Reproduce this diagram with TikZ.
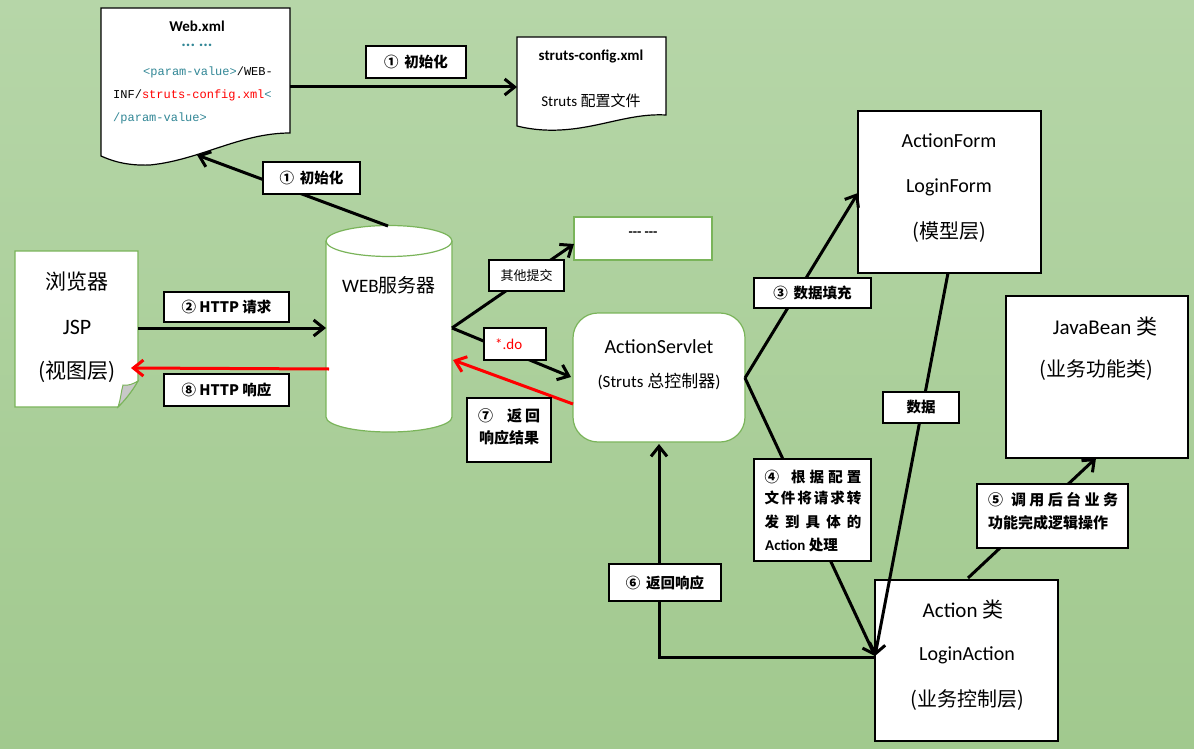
\documentclass[tikz,border=0pt]{standalone}
\usepackage{fontspec}
\setmainfont{Carlito}
\newfontfamily\cjk{Noto Sans CJK SC}
\newfontfamily\mono{Liberation Mono}
\usetikzlibrary{arrows.meta}
\definecolor{bgtop}{RGB}{182,214,168}
\definecolor{bgbot}{RGB}{161,201,142}
\definecolor{gline}{RGB}{122,180,90}
\definecolor{tealc}{RGB}{50,135,150}
\definecolor{foldc}{RGB}{200,200,200}
\begin{document}
\begin{tikzpicture}[x=1pt,y=-1pt,
  conn/.style={line width=3pt,-{Straight Barb[length=10pt,width=16pt]}},
  rconn/.style={conn,draw=red},
  lbl/.style={draw=black,fill=white,line width=1.1pt,inner sep=0pt,font=\cjk\bfseries\fontsize{14.5}{17}\selectfont},
  boxk/.style={draw=black,fill=white,line width=1.2pt,inner sep=0pt},
  boxg/.style={draw=gline,fill=white,line width=1.2pt,inner sep=0pt},
  txt/.style={inner sep=0pt},
  big/.style={txt,font=\fontsize{20}{24}\selectfont},
  bigc/.style={txt,font=\cjk\fontsize{20}{24}\selectfont},
  docshape/.style={draw=black,fill=white,line width=1.2pt}
]
% background
\shade[top color=bgtop,bottom color=bgbot] (0,0) rectangle (1194,749);
\useasboundingbox (0,0) rectangle (1194,749);

% Web.xml document
\filldraw[docshape] (101,8) -- (290,8) -- (290,133) .. controls (240,133) and (200,160) .. (150,165) .. controls (125,166) and (110,160) .. (101,156) -- cycle;
\node[txt,font=\bfseries\fontsize{15}{17}\selectfont] (webtitle) at (197,26) {Web.xml};
\node[txt,text=tealc,font=\bfseries\fontsize{17}{17}\selectfont] (webdots) at (197,45) {.{}.{}.\ .{}.{}.};
\node[txt,anchor=west,font=\mono\fontsize{12}{14}\selectfont] (webl1) at (143,72) {\textcolor{tealc}{<param-value>}/WEB-};
\node[txt,anchor=west,font=\mono\fontsize{12}{14}\selectfont] (webl2) at (113,95) {INF/\textcolor{red}{struts-config.xml}\textcolor{tealc}{<}};
\node[txt,anchor=west,font=\mono\fontsize{12}{14}\selectfont] (webl3) at (113,118) {\textcolor{tealc}{/param-value>}};

% struts-config.xml document
\filldraw[docshape] (517,37) -- (666,37) -- (666,115) .. controls (630,113) and (600,128) .. (560,130) .. controls (540,131) and (525,128) .. (517,126) -- cycle;
\node[txt,font=\bfseries\fontsize{15}{17}\selectfont] (strtitle) at (591,56) {struts-config.xml};
\node[txt,font=\fontsize{15}{17}\selectfont] (strsub) at (591,101) {Struts {\cjk 配置文件}};

% browser page
\filldraw[draw=gline,fill=white,line width=1.2pt] (15,251) -- (138,251) -- (138,381) .. controls (131,393) and (124,401) .. (118,407) -- (15,407) -- cycle;
\filldraw[draw=gline,fill=foldc,line width=1pt] (118,407) .. controls (121,398) and (121,392) .. (123,385) .. controls (128,386) and (133,384) .. (138,381) .. controls (131,393) and (124,401) .. (118,407) -- cycle;
\node[bigc,font=\cjk\fontsize{21}{24}\selectfont] (br1) at (77,282) {浏览器};
\node[big,font=\fontsize{22}{24}\selectfont] (br2) at (77,327) {JSP};
\node[bigc,font=\cjk\fontsize{21}{24}\selectfont] (br3) at (77,372) {(视图层)};

% WEB server cylinder
\filldraw[draw=gline,fill=white,line width=1.2pt] (326,241) -- (326,417) arc[start angle=180,end angle=0,x radius=63,y radius=15] -- (452,241) arc[start angle=0,end angle=-180,x radius=63,y radius=15.5] -- cycle;
\draw[draw=gline,line width=1.2pt] (326,241) arc[start angle=180,end angle=0,x radius=63,y radius=15.5];
\node[txt,font=\fontsize{19}{22}\selectfont] (srv) at (389,285) {WEB{\cjk 服务器}};

% other box
\node[boxg,minimum width=138pt,minimum height=43pt] (other) at (643,238.5) {};
\node[txt,font=\bfseries\fontsize{14}{16}\selectfont] (othert) at (643,234) {-{}-{}-\ -{}-{}-};

% ActionServlet
\node[boxg,rounded corners=25pt,minimum width=172pt,minimum height=129pt] (servlet) at (659,377.5) {};
\node[big] (slv1) at (659,347) {ActionServlet};
\node[txt,font=\fontsize{17}{20}\selectfont] (slv2) at (659,382) {(Struts {\cjk 总控制器})};

% ActionForm
\node[boxk,minimum width=183pt,minimum height=162pt] (form) at (949.5,192) {};
\node[big] (f1) at (949,141) {ActionForm};
\node[big] (f2) at (949,187) {LoginForm};
\node[bigc] (f3) at (949,232) {(模型层)};

% JavaBean
\node[boxk,minimum width=182pt,minimum height=162pt] (bean) at (1097,377) {};
\node[txt,font=\fontsize{21}{24}\selectfont] (b1) at (1105,327) {JavaBean {\cjk 类}};
\node[bigc] (b2) at (1096,370) {(业务功能类)};

% Action
\node[boxk,minimum width=183pt,minimum height=161pt] (action) at (966.5,660.5) {};
\node[txt,font=\fontsize{21}{24}\selectfont] (a1) at (963,610) {Action {\cjk 类}};
\node[big] (a2) at (967,655) {LoginAction};
\node[bigc] (a3) at (967,700) {(业务控制层)};

% connector end points
\coordinate (webR) at (290,87); \coordinate (strutsL) at (517,87);
\coordinate (webB) at (197,155); \coordinate (srvT) at (388,226);
\coordinate (brR) at (138,328); \coordinate (srvL) at (326,328);
\coordinate (srvL2) at (329,369); \coordinate (brR2) at (131,368);
\coordinate (srvR) at (452,328); \coordinate (otherL) at (574,244);
\coordinate (slvL) at (571,377); \coordinate (slvL2) at (573,404); \coordinate (srvR2) at (453,360);
\coordinate (slvR) at (745,378); \coordinate (formL) at (858,193);
\coordinate (actL) at (875,656); \coordinate (formB) at (948,273);
\coordinate (actL2) at (875,657); \coordinate (bend6) at (659,657); \coordinate (slvB) at (659,444);
\coordinate (actT) at (968,578); \coordinate (beanB) at (1096,458);

% connectors
\draw[conn] (webR) -- (strutsL);
\draw[conn] (srvT) -- (webB);
\draw[conn] (brR) -- (srvL);
\draw[rconn] (srvL2) -- (brR2);
\draw[conn] (srvR) -- (otherL);
\draw[conn] (srvR) -- (slvL);
\draw[rconn] (slvL2) -- (srvR2);
\draw[conn] (slvR) -- (formL);
\draw[conn] (slvR) -- (actL);
\draw[conn] (formB) -- (actL);
\draw[conn] (actL2) -- (bend6) -- (slvB);
\draw[conn] (actT) -- (beanB);

% labels
\node[lbl,minimum width=100pt,minimum height=32pt] (l1a) at (416,62) {①\hspace{6pt}初始化};
\node[lbl,minimum width=97pt,minimum height=32pt] (l1b) at (311.5,178) {①\hspace{6pt}初始化};
\node[lbl,minimum width=125pt,minimum height=30pt] (l2) at (226.5,307) {② HTTP 请求};
\node[lbl,minimum width=125pt,minimum height=32pt] (l8) at (226.5,390) {⑧ HTTP 响应};
\node[lbl,minimum width=75pt,minimum height=31pt,font=\cjk\fontsize{13}{15}\selectfont] (lother) at (526.5,275.5) {其他提交};
\node[lbl,minimum width=62pt,minimum height=32pt] (ldo) at (515,344) {};
\node[txt,anchor=west,text=red,font=\fontsize{15}{17}\selectfont] (ldot) at (495,344) {*.do};
\node[lbl,minimum width=84pt,minimum height=64pt] (l7) at (509,430) {};
\node[txt,font=\cjk\bfseries\fontsize{15}{17}\selectfont] (l7a) at (509,416) {\hbox to 62pt{⑦\hfil 返\hspace{3pt}回}};
\node[txt,font=\cjk\bfseries\fontsize{15}{17}\selectfont] (l7b) at (509,438) {响应结果};
\node[lbl,minimum width=117pt,minimum height=30pt] (l3) at (812.5,293) {③\hspace{6pt}数据填充};
\node[lbl,minimum width=76pt,minimum height=31pt] (ldata) at (921,407.5) {数据};
\node[lbl,minimum width=117pt,minimum height=102pt] (l4) at (812.5,510) {};
\node[txt,font=\cjk\bfseries\fontsize{14.5}{17}\selectfont] (l4a) at (813,477) {\hbox to 97pt{④\hspace{12pt}根\hfil 据\hfil 配\hfil 置}};
\node[txt,font=\cjk\bfseries\fontsize{14.5}{17}\selectfont] (l4b) at (813,498) {\hbox to 97pt{文\hfil 件\hfil 将\hfil 请\hfil 求\hfil 转}};
\node[txt,font=\cjk\bfseries\fontsize{14.5}{17}\selectfont] (l4c) at (813,522) {\hbox to 97pt{发\hfil 到\hfil 具\hfil 体\hfil 的}};
\node[txt,anchor=west,font=\cjk\bfseries\fontsize{14.5}{17}\selectfont] (l4d) at (765,545) {{\rmfamily\bfseries\fontsize{15}{17}\selectfont Action} 处理};
\node[lbl,minimum width=151pt,minimum height=64pt] (l5) at (1052.5,516) {};
\node[txt,font=\cjk\bfseries\fontsize{15}{17}\selectfont] (l5a) at (1053,500) {\hbox to 130pt{⑤\hspace{8pt}调\hfil 用\hfil 后\hfil 台\hfil 业\hfil 务}};
\node[txt,anchor=west,font=\cjk\bfseries\fontsize{15}{17}\selectfont] (l5b) at (988,523) {功能完成逻辑操作};
\node[lbl,minimum width=112pt,minimum height=37pt] (l6) at (665,582.5) {⑥\hspace{6pt}返回响应};
\end{tikzpicture}
\end{document}
